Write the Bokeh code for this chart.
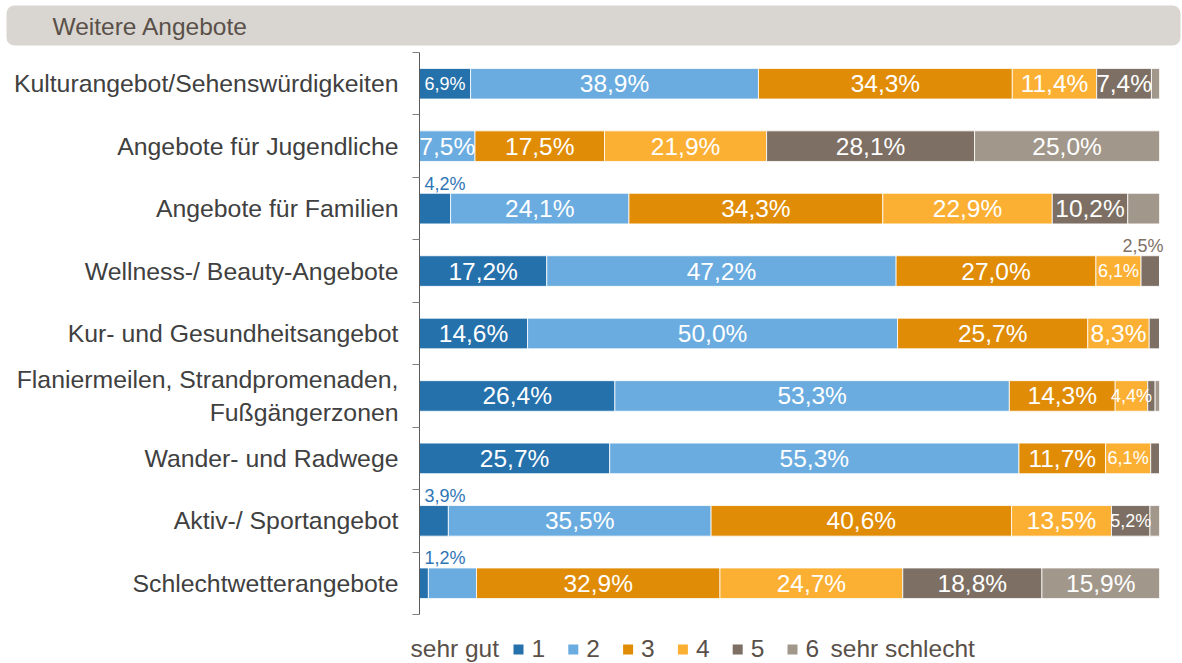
from bokeh.plotting import figure
from bokeh.layouts import column
from bokeh.models import ColumnDataSource, Range1d, FixedTicker
from bokeh.core.properties import value
from bokeh.embed import file_html
from bokeh.resources import INLINE

# ---------------- data ----------------
title_text = "Weitere Angebote"
categories = [
    "Kulturangebot/Sehenswürdigkeiten",
    "Angebote für Jugendliche",
    "Angebote für Familien",
    "Wellness-/ Beauty-Angebote",
    "Kur- und Gesundheitsangebot",
    "Flaniermeilen, Strandpromenaden,\nFußgängerzonen",
    "Wander- und Radwege",
    "Aktiv-/ Sportangebot",
    "Schlechtwetterangebote",
]
grade_1 = [6.9, 0.0, 4.2, 17.2, 14.6, 26.4, 25.7, 3.9, 1.2]
grade_2 = [38.9, 7.5, 24.1, 47.2, 50.0, 53.3, 55.3, 35.5, 6.5]
grade_3 = [34.3, 17.5, 34.3, 27.0, 25.7, 14.3, 11.7, 40.6, 32.9]
grade_4 = [11.4, 21.9, 22.9, 6.1, 8.3, 4.4, 6.1, 13.5, 24.7]
grade_5 = [7.4, 28.1, 10.2, 2.5, 1.4, 1.0, 1.2, 5.2, 18.8]
grade_6 = [1.1, 25.0, 4.3, 0.0, 0.0, 0.6, 0.0, 1.3, 15.9]
legend_labels = ["1", "2", "3", "4", "5", "6"]
legend_left = "sehr gut"
legend_right = "sehr schlecht"
# segments whose value label is not printed in the original (row, grade index)
unlabeled = [(8, 1)]

# ---------------- style ----------------
colors = ["#2571ac", "#6aacdf", "#e08c06", "#fbb034", "#7d6f63", "#a2978b"]
FONT = "Liberation Sans"
TXT = "#595049"
series = [grade_1, grade_2, grade_3, grade_4, grade_5, grade_6]
keys = ["g1", "g2", "g3", "g4", "g5", "g6"]
n = len(categories)
W = 1182


def bare(fig):
    fig.outline_line_color = None
    fig.xgrid.visible = False
    fig.ygrid.visible = False
    fig.min_border = 0
    fig.frame_align = False
    return fig


# ---------------- banner ----------------
BH = 48
banner = bare(figure(width=W, height=BH, x_range=Range1d(0, W), y_range=Range1d(BH, 0),
                     output_backend="svg", toolbar_location=None,
                     x_axis_location=None, y_axis_location=None))
banner.quad(left=[6], right=[1180], top=[5], bottom=[45], fill_color="#d9d6d1",
            line_color=None, border_radius=8)
banner.text(x=[52], y=[26], text=[title_text], text_font=value(FONT), text_font_size="24.5px",
            text_color=TXT, text_baseline="middle", text_align="left")

# ---------------- main chart ----------------
MH = 572
p = figure(width=W, height=MH, x_range=Range1d(0, 100.8), y_range=Range1d(n, 0),
           output_backend="svg", toolbar_location=None, x_axis_location=None,
           min_border_left=419, min_border_right=17, min_border_top=4, min_border_bottom=6)
p.outline_line_color = None
p.xgrid.visible = False
p.ygrid.visible = False
p.frame_align = False

ys = [i + 0.5 for i in range(n)]
data = dict(y=ys)
for k, s in zip(keys, series):
    data[k] = s
src = ColumnDataSource(data)
p.hbar_stack(keys, y="y", height=0.49, fill_color=colors, line_color="white",
             line_width=0.8, source=src)

yax = p.yaxis[0]
yax.ticker = FixedTicker(ticks=ys, minor_ticks=list(range(n + 1)))
yax.major_label_overrides = {y: c for y, c in zip(ys, categories)}
yax.major_tick_out = 0
yax.major_tick_in = 0
yax.major_tick_line_color = None
yax.minor_tick_out = 7
yax.minor_tick_in = 0
yax.minor_tick_line_color = "#808080"
yax.axis_line_color = "#595959"
yax.major_label_text_font = FONT
yax.major_label_text_font_size = "24.8px"
yax.major_label_text_color = "#404040"
yax.major_label_standoff = 14

ins = dict(x=[], y=[], text=[], size=[])
outl = dict(x=[], y=[], text=[])
outr = dict(x=[], y=[], text=[])
for r in range(n):
    left = 0.0
    for k, s in enumerate(series):
        v = s[r]
        lab = f"{v:.1f}".replace(".", ",") + "%"
        if (r, k) in unlabeled:
            pass
        elif v >= 7:
            ins["x"].append(left + v / 2); ins["y"].append(ys[r]); ins["text"].append(lab); ins["size"].append("24.5px")
        elif v >= 4.4:
            ins["x"].append(left + v / 2); ins["y"].append(ys[r]); ins["text"].append(lab); ins["size"].append("18px")
        elif k == 0 and v > 0:
            outl["x"].append(left); outl["y"].append(ys[r]); outl["text"].append(lab)
        elif k == 4 and v >= 2:
            outr["x"].append(left + v); outr["y"].append(ys[r]); outr["text"].append(lab)
        left += v

p.text(x="x", y="y", text="text", source=ColumnDataSource(ins), text_font_size="size",
       text_align="center", text_baseline="middle", text_color="white", text_font=value(FONT))
p.text(x="x", y="y", text="text", source=ColumnDataSource(outl), text_font_size="18px",
       text_align="left", text_baseline="middle", text_color="#2e75b6", text_font=value(FONT),
       x_offset=5, y_offset=-25)
p.text(x="x", y="y", text="text", source=ColumnDataSource(outr), text_font_size="18px",
       text_align="right", text_baseline="middle", text_color="#7f7065", text_font=value(FONT),
       x_offset=4, y_offset=-25)

# ---------------- legend ----------------
LH = 42
leg = bare(figure(width=W, height=LH, x_range=Range1d(0, W), y_range=Range1d(LH, 0),
                  output_backend="svg", toolbar_location=None,
                  x_axis_location=None, y_axis_location=None))
LY = 28
SQ0, STEP, SQ = 513, 54.8, 10
sq_x = [SQ0 + i * STEP for i in range(len(legend_labels))]
leg.rect(x=[x + SQ / 2 for x in sq_x], y=[LY + 1] * len(sq_x), width=SQ, height=SQ,
         fill_color=colors, line_color=None)
leg.text(x=[x + 18 for x in sq_x], y=[LY] * len(sq_x), text=legend_labels,
         text_font=value(FONT), text_font_size="24.5px", text_color=TXT,
         text_baseline="middle", text_align="left")
leg.text(x=[410, 830], y=[LY, LY], text=[legend_left, legend_right],
         text_font=value(FONT), text_font_size="24.5px", text_color=TXT,
         text_baseline="middle", text_align="left")

layout = column(banner, p, leg, spacing=0)
open("out.html", "w").write(file_html(layout, INLINE))
